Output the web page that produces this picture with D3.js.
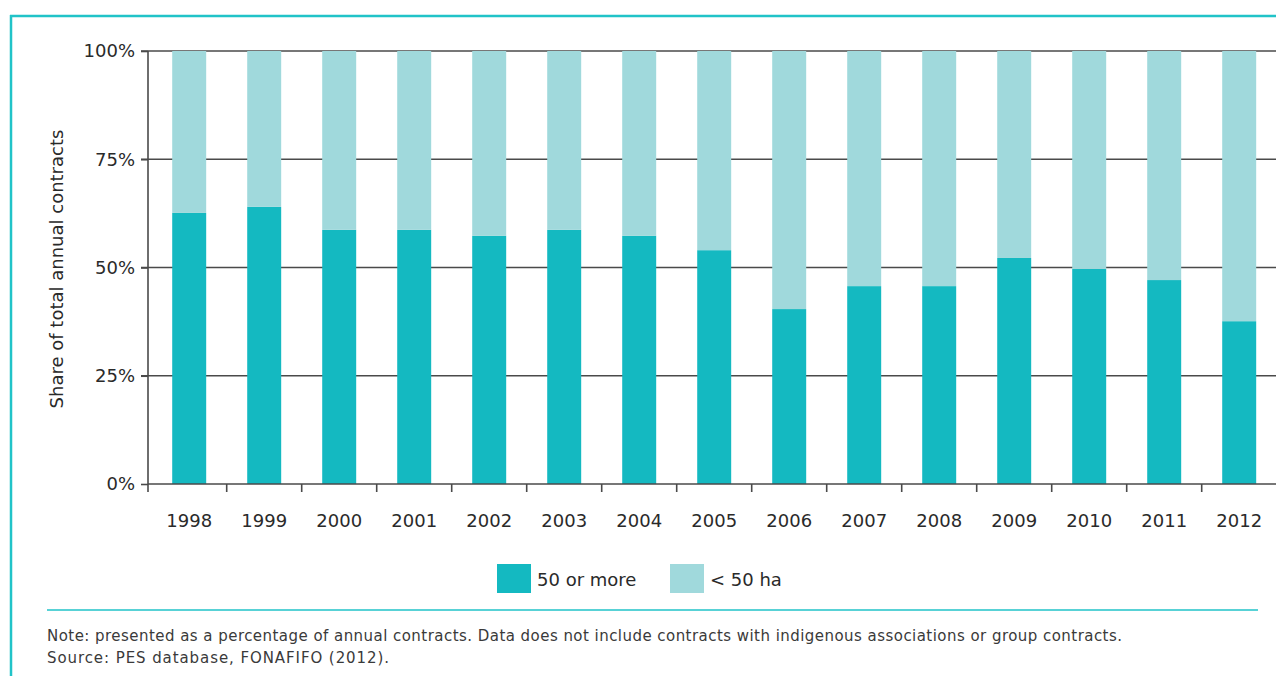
<!DOCTYPE html>
<html><head><meta charset="utf-8">
<script src="https://cdn.jsdelivr.net/npm/d3@7/dist/d3.min.js"></script>
<style>body{margin:0;background:#fff;}svg{display:block;}</style>
</head><body>
<script>
const years = ["1998","1999","2000","2001","2002","2003","2004","2005","2006","2007","2008","2009","2010","2011","2012"];
const large = [62.6,64.0,58.7,58.7,57.3,58.7,57.3,54.0,40.4,45.7,45.7,52.2,49.7,47.1,37.6];
const seriesNames = ["50 or more","< 50 ha"];
const yTicks = [0,25,50,75,100];
const colors = ["#14b9c1","#a0d9dc"];
const W=1276,H=676;
const svg=d3.select("body").append("svg").attr("width",W).attr("height",H);
const font="'DejaVu Sans', Verdana, sans-serif";
// frame
svg.append("line").attr("x1",10).attr("x2",W).attr("y1",16).attr("y2",16).attr("stroke","#21c3c8").attr("stroke-width",2.5);
svg.append("line").attr("x1",11).attr("x2",11).attr("y1",15).attr("y2",H).attr("stroke","#21c3c8").attr("stroke-width",2.5);

const x=d3.scaleBand().domain(years).range([151.7,1276.7]).paddingInner(0.547).paddingOuter(0.2735);
const y=d3.scaleLinear().domain([0,100]).range([484,51]);
const data=years.map((yr,i)=>({year:yr,a:large[i],b:100-large[i]}));
const stack=d3.stack().keys(["a","b"])(data);

// gridlines
svg.append("g").selectAll("line").data(yTicks.filter(d=>d>0)).join("line")
 .attr("x1",141).attr("x2",1276).attr("y1",d=>y(d)).attr("y2",d=>y(d))
 .attr("stroke","#4a4a4a").attr("stroke-width",1.6);

// bars
svg.append("g").selectAll("g").data(stack).join("g").attr("fill",(d,i)=>colors[i])
 .selectAll("rect").data(d=>d).join("rect")
 .attr("x",d=>x(d.data.year)).attr("width",x.bandwidth())
 .attr("y",d=>y(d[1])).attr("height",d=>y(d[0])-y(d[1]));

// y axis
const ya=svg.append("g").attr("transform","translate(148,0)")
 .call(d3.axisLeft(y).tickValues(yTicks).tickFormat(d=>d+"%").tickSize(7).tickPadding(6));
ya.select(".domain").attr("stroke","#4a4a4a").attr("stroke-width",1.6).attr("d","M0,51V492");
ya.selectAll(".tick line").attr("stroke","#4a4a4a").attr("stroke-width",1.6);
ya.selectAll("text").attr("font-family",font).attr("font-size",18).attr("fill","#2a2a2a");

// x axis
const xa=svg.append("g").attr("transform","translate(0,484)")
 .call(d3.axisBottom(x).tickSize(0).tickPadding(30));
xa.select(".domain").attr("stroke","#4a4a4a").attr("stroke-width",1.6).attr("d","M148,0H1276");
xa.selectAll("text").attr("font-family",font).attr("font-size",18).attr("fill","#2a2a2a");
svg.append("g").selectAll("line").data(years.slice(1)).join("line")
 .attr("x1",d=>x(d)-x.step()*x.paddingOuter()).attr("x2",d=>x(d)-x.step()*x.paddingOuter())
 .attr("y1",484).attr("y2",492).attr("stroke","#4a4a4a").attr("stroke-width",1.6);

// y label
svg.append("text").attr("transform","translate(63,269) rotate(-90)").attr("text-anchor","middle")
 .attr("font-family",font).attr("font-size",18).attr("fill","#2a2a2a").text("Share of total annual contracts");

// legend
const lx=[497,670];
seriesNames.forEach((n,i)=>{
 svg.append("rect").attr("x",lx[i]).attr("y",564).attr("width",34).attr("height",29).attr("fill",colors[i]);
 svg.append("text").attr("x",lx[i]+40).attr("y",586).attr("font-family",font).attr("font-size",18).attr("fill","#2a2a2a").text(n);
});

// note
svg.append("line").attr("x1",47).attr("x2",1258).attr("y1",610).attr("y2",610).attr("stroke","#21c3c8").attr("stroke-width",1.5);
svg.append("text").attr("x",47).attr("y",641).attr("font-family",font).attr("font-size",15).attr("fill","#3a3a3a")
 .attr("textLength",1075).attr("lengthAdjust","spacing")
 .text("Note: presented as a percentage of annual contracts. Data does not include contracts with indigenous associations or group contracts.");
svg.append("text").attr("x",47).attr("y",663).attr("font-family",font).attr("font-size",15).attr("fill","#3a3a3a")
 .attr("textLength",342).attr("lengthAdjust","spacing")
 .text("Source: PES database, FONAFIFO (2012).");
</script>
</body></html>
